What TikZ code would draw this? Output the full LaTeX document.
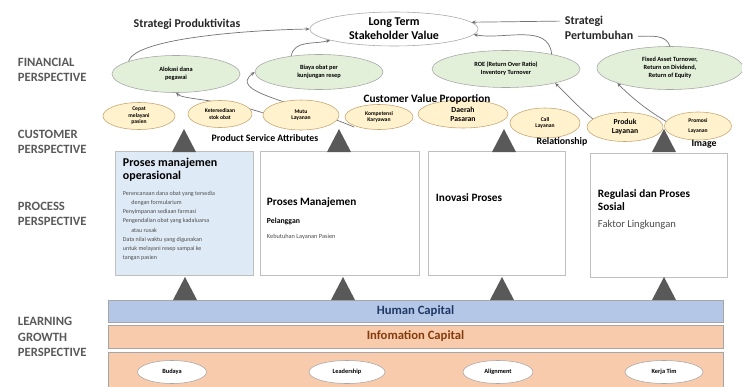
\documentclass[tikz,border=0pt]{standalone}
\usepackage{fontspec}
\setmainfont{Carlito}
\usetikzlibrary{positioning, arrows.meta, shapes.geometric}

\definecolor{lblgrey}{HTML}{595959}
\definecolor{edgegrey}{HTML}{A6A6A6}
\definecolor{boxedge}{HTML}{BFBFBF}
\definecolor{greenfill}{HTML}{E2EFD9}
\definecolor{yellfill}{HTML}{FFF2CC}
\definecolor{yelledge}{HTML}{C5A572}
\definecolor{boxblue}{HTML}{DEEAF6}
\definecolor{hcblue}{HTML}{B4C7E7}
\definecolor{icpeach}{HTML}{F8CBAD}
\definecolor{hctext}{HTML}{1F3864}
\definecolor{ictext}{HTML}{843C0C}
\definecolor{trigrey}{HTML}{595959}

\newlength{\pxl}
\setlength{\pxl}{0.025cm}

\tikzset{
	persp/.style={anchor=west, align=left, text=lblgrey, font=\fontsize{9}{11}\selectfont\bfseries},
	strat/.style={text=black!85, font=\fontsize{8.5}{10.5}\selectfont\bfseries},
	finell/.style={ellipse, draw=edgegrey, fill=greenfill, inner sep=0pt, align=center, font=\fontsize{4.5}{5.5}\selectfont\bfseries},
	custell/.style={ellipse, draw=yelledge, fill=yellfill, inner sep=0pt, align=center, font=\fontsize{4}{4.6}\selectfont\bfseries},
	learnell/.style={ellipse, draw=edgegrey, fill=white, inner sep=0pt, font=\fontsize{4.5}{5.5}\selectfont\bfseries},
	procbox/.style={draw=boxedge, fill=white, inner sep=0pt},
	proctitle/.style={anchor=west, align=left, font=\fontsize{8}{9}\selectfont\bfseries},
	capbar/.style={draw=edgegrey, inner sep=0pt, minimum width=615*\pxl, font=\fontsize{9}{11}\selectfont\bfseries},
	attr/.style={font=\fontsize{7}{8}\selectfont\bfseries},
	link/.style={draw=black!55, line width=0.5pt, -{Stealth[length=3pt,width=2.5pt]}}
}

\begin{document}
\begin{tikzpicture}[x=0.025cm, y=-0.025cm]
	\useasboundingbox (0,0) rectangle (742,387);

	% perspectives
	\node[persp] (fin) at (13,70) {FINANCIAL\\PERSPECTIVE};
	\node[persp] (cus) at (13,142) {CUSTOMER\\PERSPECTIVE};
	\node[persp] (pro) at (13,214) {PROCESS\\PERSPECTIVE};
	\node[persp] (lea) at (13,337) {LEARNING\\GROWTH\\PERSPECTIVE};

	% financial
	\node[ellipse, draw=edgegrey, fill=white, inner sep=0pt, align=center, minimum width=168*\pxl, minimum height=34*\pxl, font=\fontsize{8.5}{10}\selectfont\bfseries] (lt) at (394,29) {Long Term\\Stakeholder Value};
	\node[strat] (sprod) at (187,24) {Strategi Produktivitas};
	\node[strat, anchor=west, align=left] (sgrow) at (560,28) {Strategi\\Pertumbuhan};
	\node[finell, minimum width=128*\pxl, minimum height=37*\pxl] (alokasi) at (176,74) {Alokasi dana\\pegawai};
	\node[finell, minimum width=128*\pxl, minimum height=35*\pxl] (biaya) at (319,72) {Biaya obat per\\kunjungan resep};
	\node[finell, minimum width=148*\pxl, minimum height=37*\pxl] (roe) at (506,69) {ROE (Return Over Ratio)\\Inventory Turnover};
	\node[finell, minimum width=146*\pxl, minimum height=43*\pxl] (fat) at (670,68) {Fixed Asset Turnover,\\Return on Dividend,\\Return of Equity};

	% customer (names first, links under the shapes)
	\path (139,116) coordinate (c-cepat) (220,114) coordinate (c-stok) (301,115) coordinate (c-mutu) (379,117) coordinate (c-komp)
		(463,114) coordinate (c-daerah) (545,123) coordinate (c-call) (625,127) coordinate (c-produk) (698,126) coordinate (c-promosi);

	% links
	\draw[link] (alokasi.165) .. controls (135,38) and (250,30) .. (lt.180);
	\draw[link] (biaya.150) to[out=80, in=195] (lt.190);
	\draw[link] ([yshift=-15*\pxl]c-mutu) .. controls (250,99) and (185,101) .. (alokasi.south);
	\draw[link] ([xshift=-25*\pxl, yshift=-10*\pxl]c-komp) .. controls (290,100) and (228,92) .. (biaya.west);
	\draw[link] (sgrow.170) -- (lt.5);
	\draw[link] (roe.18) to[out=95, in=-10] (lt.-4);
	\draw[draw=black!55, line width=0.5pt] (sgrow.-12) to[out=0, in=110] (fat.north);
	\draw[link] ([yshift=-14*\pxl]c-produk) to[out=150, in=-45] (roe.-16);
	\draw[link] ([yshift=-14*\pxl]c-promosi) to[out=150, in=-45] (fat.196);

	\node[custell, minimum width=72*\pxl, minimum height=27*\pxl] (cepat) at (c-cepat) {Cepat\\melayani\\pasien};
	\node[custell, minimum width=64*\pxl, minimum height=27*\pxl] (stok) at (c-stok) {Ketersediaan\\stok obat};
	\node[custell, minimum width=76*\pxl, minimum height=30*\pxl] (mutu) at (c-mutu) {Mutu\\Layanan};
	\node[custell, minimum width=68*\pxl, minimum height=25*\pxl] (komp) at (c-komp) {Kompetensi\\Karyawan};
	\node[custell, minimum width=90*\pxl, minimum height=28*\pxl, font=\fontsize{5.5}{6.5}\selectfont\bfseries] (daerah) at (c-daerah) {Daerah\\Pasaran};
	\node[custell, minimum width=70*\pxl, minimum height=30*\pxl] (call) at (c-call) {Call\\Layanan};
	\node[custell, minimum width=76*\pxl, minimum height=29*\pxl, font=\fontsize{5.5}{6.5}\selectfont\bfseries] (produk) at (c-produk) {Produk\\Layanan};
	\node[custell, minimum width=67*\pxl, minimum height=28*\pxl] (promosi) at (c-promosi) {Promosi\\[3pt]Layanan};
	\node[font=\fontsize{8}{9}\selectfont\bfseries] (cvp) at (427,99) {Customer Value Proportion};
	\node[attr] (psa) at (265,138) {Product Service Attributes};
	\node[attr] (rel) at (562,142) {Relationship};
	\node[attr] (img) at (704,144) {Image};

	% process
	\node[procbox, fill=boxblue, minimum width=138*\pxl, minimum height=124*\pxl] (p1) at (184,213) {};
	\node[procbox, minimum width=159*\pxl, minimum height=124*\pxl] (p2) at (339.5,213) {};
	\node[procbox, minimum width=137*\pxl, minimum height=124*\pxl] (p3) at (496.5,213) {};
	\node[procbox, minimum width=137*\pxl, minimum height=124*\pxl] (p4) at (658.5,215) {};
	\node[anchor=north west, align=left, font=\fontsize{8.5}{9}\selectfont\bfseries] (p1t) at (118,153) {Proses manajemen\\operasional};
	\node[anchor=north west, align=left, text=black!70, font=\fontsize{4.3}{6.6}\selectfont] (p1l) at (p1t.south west) {Perencanaan dana obat yang tersedia\\\hspace{6pt}dengan formularium\\Penyimpanan sediaan farmasi\\Pengendalian obat yang kadaluarsa\\\hspace{6pt}atau rusak\\Data nilai waktu yang digunakan\\untuk melayani resep sampai ke\\tangan pasien};
	\node[proctitle] (p2t) at (262,203) {Proses Manajemen};
	\node[anchor=north west, align=left, font=\fontsize{5.5}{6.5}\selectfont\bfseries] (p2s) at (p2t.south west) {Pelanggan};
	\node[anchor=north west, align=left, text=black!70, font=\fontsize{4.5}{5.5}\selectfont] (p2l) at (p2s.south west) {Kebutuhan Layanan Pasien};
	\node[proctitle] (p3t) at (431,198) {Inovasi Proses};
	\node[proctitle] (p4t) at (593,200) {Regulasi dan Proses\\Sosial};
	\node[anchor=north west, text=black!70, font=\fontsize{7.5}{9}\selectfont] (p4l) at (p4t.south west) {Faktor Lingkungan};

	% learning and growth
	\node[capbar, fill=hcblue, minimum height=22*\pxl, text=hctext] (hc) at (415.5,311) {Human Capital};
	\node[capbar, fill=icpeach, minimum height=23*\pxl, text=ictext] (ic) at (415.5,336.5) {Infomation Capital};
	\node[capbar, fill=icpeach, minimum height=35*\pxl] (cult) at (415.5,369.5) {};
	\node[learnell, minimum width=69*\pxl, minimum height=23*\pxl] (budaya) at (172,372) {Budaya};
	\node[learnell, minimum width=76*\pxl, minimum height=23*\pxl] (lead) at (347,372) {Leadership};
	\node[learnell, minimum width=70*\pxl, minimum height=23*\pxl] (align) at (498,372) {Alignment};
	\node[learnell, minimum width=78*\pxl, minimum height=23*\pxl] (kerja) at (664,372) {Kerja Tim};

	% triangles
	\foreach \x/\y in {184/152, 339/152, 504/152, 664/152, 185/300, 343/300, 502/300, 664/300}
		\fill[trigrey] (\x-12,\y) -- (\x+12,\y) -- (\x,\y-23) -- cycle;
\end{tikzpicture}
\end{document}
